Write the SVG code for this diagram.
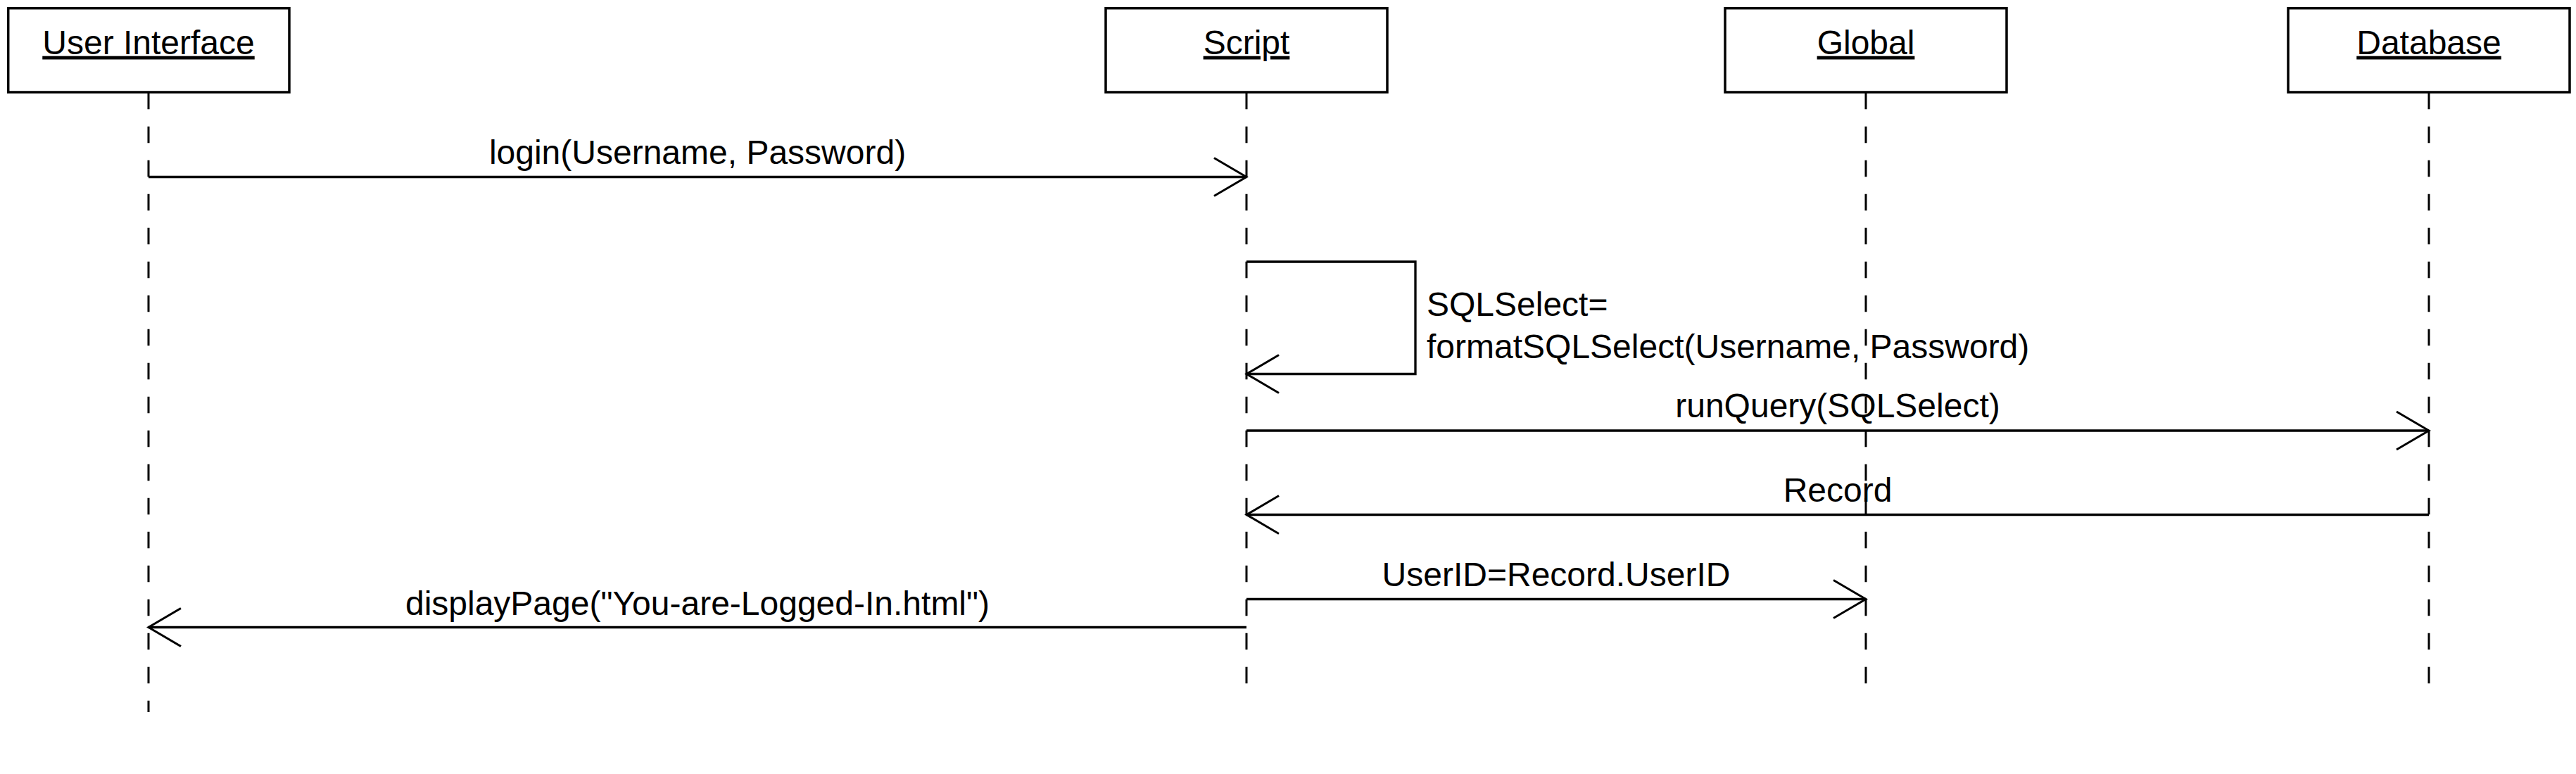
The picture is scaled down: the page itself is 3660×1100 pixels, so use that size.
<svg xmlns="http://www.w3.org/2000/svg" width="3660" height="1100" viewBox="0 0 3660 1100">
<style>
  .box { fill: #ffffff; stroke: #000000; stroke-width: 3.5; }
  .life { fill: none; stroke: #000000; stroke-width: 3; stroke-dasharray: 23.5 24.5; }
  .msg { fill: none; stroke: #000000; stroke-width: 3.3; marker-end: url(#open); }
  .hdr { font-family: "Liberation Sans", Arial, Helvetica, sans-serif; font-size: 48px; fill: #000000; text-anchor: middle; text-decoration: underline; }
  .lbl { font-family: "Liberation Sans", Arial, Helvetica, sans-serif; font-size: 48px; fill: #000000; text-anchor: middle; }
  .lbl-l { font-family: "Liberation Sans", Arial, Helvetica, sans-serif; font-size: 48px; fill: #000000; text-anchor: start; }
</style>
<defs>
  <marker id="open" markerUnits="userSpaceOnUse" markerWidth="60" markerHeight="64" viewBox="-52 -32 60 64" refX="0" refY="0" orient="auto">
    <path d="M-46,-27 L0,0 L-46,27" fill="none" stroke="#000000" stroke-width="3"/>
  </marker>
</defs>
<rect width="3660" height="1100" fill="#ffffff"/>

<g id="lifelines">
  <line class="life" x1="211" y1="131.7" x2="211" y2="1012"/>
  <line class="life" x1="1771" y1="131.7" x2="1771" y2="972"/>
  <line class="life" x1="2651" y1="131.7" x2="2651" y2="972"/>
  <line class="life" x1="3451" y1="131.7" x2="3451" y2="972"/>
</g>

<g id="node-user-interface">
  <rect class="box" x="11.7" y="11.7" width="399.3" height="119.3"/>
  <text class="hdr" x="211" y="76.7">User Interface</text>
</g>
<g id="node-script">
  <rect class="box" x="1571" y="11.7" width="400" height="119.3"/>
  <text class="hdr" x="1771" y="76.7">Script</text>
</g>
<g id="node-global">
  <rect class="box" x="2451" y="11.7" width="400" height="119.3"/>
  <text class="hdr" x="2651" y="76.7">Global</text>
</g>
<g id="node-database">
  <rect class="box" x="3251" y="11.7" width="400" height="119.3"/>
  <text class="hdr" x="3451" y="76.7">Database</text>
</g>

<g id="connectors">
  <line class="msg" x1="211" y1="251.5" x2="1771" y2="251.5"/>
  <text class="lbl" x="991" y="233">login(Username, Password)</text>

  <path class="msg" d="M1771,372 H2011 V531.5 H1771"/>
  <text class="lbl-l" x="2027" y="449">SQLSelect=</text>
  <text class="lbl-l" x="2027" y="509">formatSQLSelect(Username, Password)</text>

  <line class="msg" x1="1771" y1="612" x2="3451" y2="612"/>
  <text class="lbl" x="2611" y="593">runQuery(SQLSelect)</text>

  <line class="msg" x1="3451" y1="731.5" x2="1771" y2="731.5"/>
  <text class="lbl" x="2611" y="713">Record</text>

  <line class="msg" x1="1771" y1="851.5" x2="2651" y2="851.5"/>
  <text class="lbl" x="2211" y="833">UserID=Record.UserID</text>

  <line class="msg" x1="1771" y1="891.5" x2="211" y2="891.5"/>
  <text class="lbl" x="991" y="874">displayPage(&quot;You-are-Logged-In.html&quot;)</text>
</g>
</svg>
